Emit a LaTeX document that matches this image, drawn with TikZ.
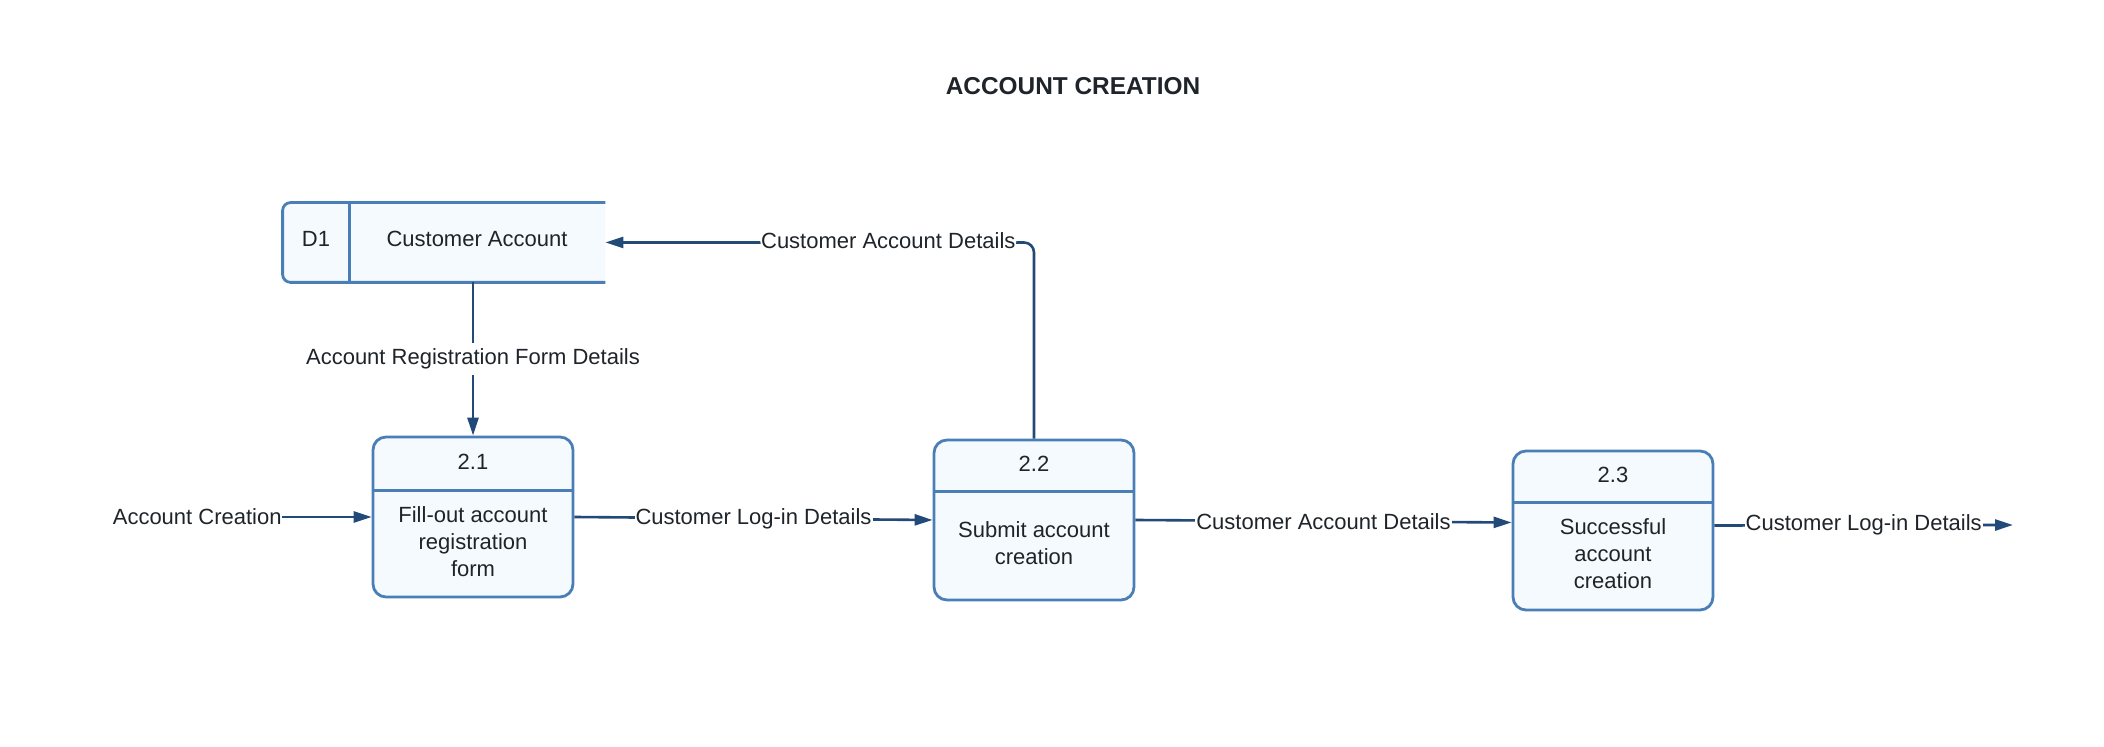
\documentclass[tikz,border=0pt]{standalone}
\usepackage{fontspec}
\setmainfont{Liberation Sans}
\usetikzlibrary{arrows.meta}
\definecolor{boxline}{RGB}{74,126,182}
\definecolor{boxfill}{RGB}{245,250,254}
\definecolor{flow}{RGB}{34,74,120}
\definecolor{ink}{RGB}{30,36,42}
\begin{document}
\begin{tikzpicture}[x=0.5pt,y=-0.5pt,
 proc/.style={draw=boxline, fill=boxfill, line width=1.4pt, rounded corners=6.5pt, minimum width=100pt, minimum height=80pt, inner sep=0pt},
 hdr/.style={txt, minimum width=100pt, anchor=north},
 hdrbox/.style={minimum width=100pt, inner sep=0pt, anchor=north},
 divider/.style={draw=boxline, line width=1.4pt},
 txt/.style={text=ink, font=\fontsize{11pt}{13.5pt}\selectfont, align=center, inner sep=0pt},
 flowlbl/.style={txt, fill=white, inner xsep=0.5pt, inner ysep=1pt},
 flowline/.style={draw=flow, line width=1.3pt, -{Triangle[length=9pt,width=5.5pt]}}
]
\useasboundingbox (0,0) rectangle (2104,747);

% title
\node[txt, font=\fontsize{12.2pt}{14pt}\selectfont\bfseries] (title) at (1073,86) {ACCOUNT CREATION};

% data store
\node[minimum width=161pt, minimum height=39.5pt, inner sep=0pt] (d1) at (444,242.5) {};
\draw[boxline, fill=boxfill, line width=1.4pt, rounded corners=4pt]
  (d1.north east) -- (d1.north west) -- (d1.south west) -- (d1.south east);
\node[txt, minimum width=33pt, minimum height=36pt, anchor=north west] (d1id) at (d1.north west) {D1};
\draw[divider] (d1.north west -| d1id.east) -- (d1.south west -| d1id.east);
\node[txt] (d1name) at (477,239) {Customer Account};

% process 2.1
\node[proc, minimum height=80pt] (p21) at (473,517) {};
\node[hdr, minimum height=26pt] (p21h) at (p21.north) {2.1};
\node[hdrbox, minimum height=27pt] (p21hb) at (p21.north) {};
\draw[divider] (p21hb.south west) -- (p21hb.south east);
\node[txt] (p21t) at (473,542) {Fill-out account\\registration\\form};

% process 2.2
\node[proc, minimum height=80pt] (p22) at (1034,520) {};
\node[hdr, minimum height=25pt] (p22h) at (p22.north) {2.2};
\node[hdrbox, minimum height=26pt] (p22hb) at (p22.north) {};
\draw[divider] (p22hb.south west) -- (p22hb.south east);
\node[txt] (p22t) at (1034,543) {Submit account\\creation};

% process 2.3
\node[proc, minimum height=79.5pt] (p23) at (1613,530.5) {};
\node[hdr, minimum height=25pt] (p23h) at (p23.north) {2.3};
\node[hdrbox, minimum height=26pt] (p23hb) at (p23.north) {};
\draw[divider] (p23hb.south west) -- (p23hb.south east);
\node[txt] (p23t) at (1613,554) {Successful\\account\\creation};

% external input
\node[txt, anchor=east] (ac) at (282,517) {Account Creation};
\coordinate (out) at (2013,525);

% flows
\draw[flowline] (ac.east) -- (p21.west);
\draw[flowline] (p21.east) -- node[flowlbl] (l1) {Customer Log-in Details} (p22.west);
\draw[flowline] (p22.east) -- node[flowlbl] (l2) {Customer Account Details} ([yshift=4pt]p23.west);
\draw[flowline] ([yshift=2.5pt]p23.east) -- node[flowlbl] (l3) {Customer Log-in Details} (out);
\draw[flowline] (p21.north |- d1.south) -- node[flowlbl, inner ysep=3pt] (l4) {Account Registration Form Details} (p21.north);
\draw[flowline, rounded corners=5pt] (p22.north) |- node[flowlbl, pos=0.67, yshift=1pt] (l5) {Customer Account Details} (d1.east);
\end{tikzpicture}
\end{document}
